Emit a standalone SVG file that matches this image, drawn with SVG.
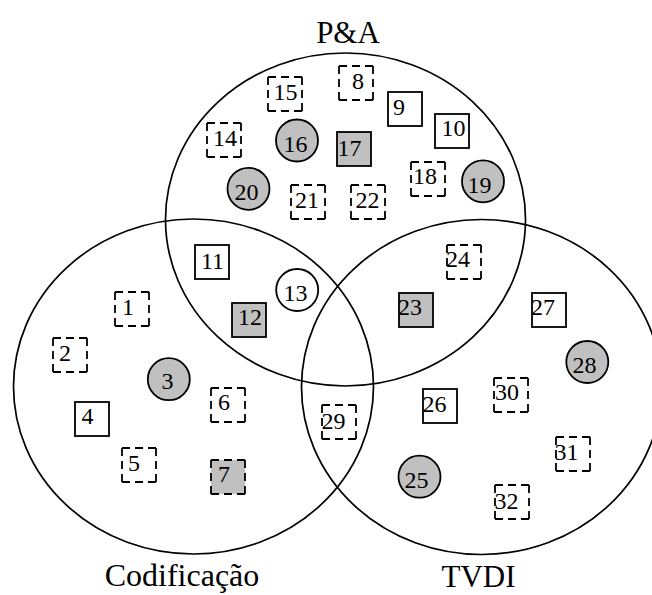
<svg xmlns="http://www.w3.org/2000/svg" xmlns:xlink="http://www.w3.org/1999/xlink" width="652" height="595" viewBox="0 0 652 595">
  <style>
    .set { fill: none; stroke: #000; stroke-width: 1.7; }
    .set-label { font-family: "Liberation Serif", "Times New Roman", serif; font-size: 31px; fill: #000; text-anchor: middle; }
    .num { font-family: "Liberation Serif", "Times New Roman", serif; font-size: 24px; fill: #000; text-anchor: middle; }
    .box { stroke: #000; stroke-width: 1.8; }
    .dash { fill: none; stroke: #000; stroke-width: 1.8; stroke-dasharray: 8 5; }
    .white { fill: #fff; }
    .gray { fill: #c0c0c0; }
    .nofill { fill: none; }
  </style>
  <defs>
    <!-- each side is its own subpath so the dash pattern starts at every corner -->
    <path id="dashFrame" class="dash" d="M0 0H34M34 0V34M34 34H0M0 34V0"/>
  </defs>

  <rect width="652" height="595" fill="#fff"/>

  <!-- the three sets -->
  <g id="set-pa">
    <ellipse class="set" cx="345.5" cy="219.5" rx="180" ry="166.5"/>
    <text class="set-label" x="348" y="43">P&amp;A</text>
  </g>
  <g id="set-codificacao">
    <ellipse class="set" cx="193.5" cy="386.5" rx="180" ry="167.5"/>
    <text class="set-label" x="182" y="585.5" style="font-size:32px">Codificação</text>
  </g>
  <g id="set-tvdi">
    <ellipse class="set" cx="481.5" cy="387" rx="180" ry="167.5"/>
    <text class="set-label" x="478.5" y="586.5">TVDI</text>
  </g>

  <!-- no links between items -->
  <g id="connectors"></g>

  <!-- items: dashed boxes, solid boxes, circles -->
  <g id="n1"><use xlink:href="#dashFrame" x="115" y="292"/><text class="num" x="128" y="314.5">1</text></g>
  <g id="n2"><use xlink:href="#dashFrame" x="53" y="338"/><text class="num" x="65" y="360.5">2</text></g>
  <g id="n3"><circle class="box gray" cx="168.8" cy="379.2" r="21"/><text class="num" x="167.5" y="388.5">3</text></g>
  <g id="n4"><rect class="box white" x="75" y="402" width="34" height="34"/><text class="num" x="87.5" y="423.5">4</text></g>
  <g id="n5"><use xlink:href="#dashFrame" x="122" y="448"/><text class="num" x="134" y="470.5">5</text></g>
  <g id="n6"><use xlink:href="#dashFrame" x="211" y="388"/><text class="num" x="224" y="410">6</text></g>
  <g id="n7"><rect class="gray" x="211" y="460" width="34" height="34"/><use xlink:href="#dashFrame" x="211" y="460"/><text class="num" x="224" y="481.5">7</text></g>
  <g id="n8"><use xlink:href="#dashFrame" x="339" y="66"/><text class="num" x="358" y="88.5">8</text></g>
  <g id="n9"><rect class="box white" x="388" y="92" width="34" height="34"/><text class="num" x="399" y="115">9</text></g>
  <g id="n10"><rect class="box white" x="435" y="114" width="34" height="34"/><text class="num" x="453.5" y="136">10</text></g>
  <g id="n11"><rect class="box white" x="195" y="245" width="34" height="34"/><text class="num" x="212.5" y="268.5">11</text></g>
  <g id="n12"><rect class="box gray" x="232" y="303" width="34" height="34"/><text class="num" x="250" y="324.5">12</text></g>
  <g id="n13"><circle class="box white" cx="297.2" cy="290" r="21"/><text class="num" x="295.5" y="301">13</text></g>
  <g id="n14"><use xlink:href="#dashFrame" x="207" y="123"/><text class="num" x="225" y="145.5">14</text></g>
  <g id="n15"><use xlink:href="#dashFrame" x="268" y="77"/><text class="num" x="285.5" y="100">15</text></g>
  <g id="n16"><circle class="box gray" cx="297" cy="140.5" r="21"/><text class="num" x="295.5" y="152">16</text></g>
  <g id="n17"><rect class="box gray" x="337" y="132" width="34" height="34"/><text class="num" x="349.5" y="155.5">17</text></g>
  <g id="n18"><use xlink:href="#dashFrame" x="411" y="162"/><text class="num" x="425" y="184">18</text></g>
  <g id="n19"><circle class="box gray" cx="483" cy="181.3" r="21"/><text class="num" x="479.5" y="192.5">19</text></g>
  <g id="n20"><circle class="box gray" cx="248.5" cy="188.8" r="21"/><text class="num" x="246.5" y="200">20</text></g>
  <g id="n21"><use xlink:href="#dashFrame" x="291" y="185"/><text class="num" x="307" y="207.5">21</text></g>
  <g id="n22"><use xlink:href="#dashFrame" x="351" y="185"/><text class="num" x="367.5" y="207.5">22</text></g>
  <g id="n23"><rect class="box gray" x="399" y="293" width="34" height="34"/><text class="num" x="410" y="315">23</text></g>
  <g id="n24"><use xlink:href="#dashFrame" x="447" y="245"/><text class="num" x="458" y="266.5">24</text></g>
  <g id="n25"><circle class="box gray" cx="419.5" cy="476.7" r="21"/><text class="num" x="416.5" y="487.5">25</text></g>
  <g id="n26"><rect class="box white" x="423" y="389" width="34" height="34"/><text class="num" x="434.5" y="411.5">26</text></g>
  <g id="n27"><rect class="box white" x="532" y="293" width="34" height="34"/><text class="num" x="543" y="315">27</text></g>
  <g id="n28"><circle class="box gray" cx="587.3" cy="362" r="21"/><text class="num" x="584.5" y="372.5">28</text></g>
  <g id="n29"><use xlink:href="#dashFrame" x="322" y="405"/><text class="num" x="333.5" y="428.5">29</text></g>
  <g id="n30"><use xlink:href="#dashFrame" x="494" y="378"/><text class="num" x="507" y="399.5">30</text></g>
  <g id="n31"><use xlink:href="#dashFrame" x="556" y="437"/><text class="num" x="566.5" y="460">31</text></g>
  <g id="n32"><use xlink:href="#dashFrame" x="495" y="485"/><text class="num" x="506.5" y="508.5">32</text></g>
</svg>
